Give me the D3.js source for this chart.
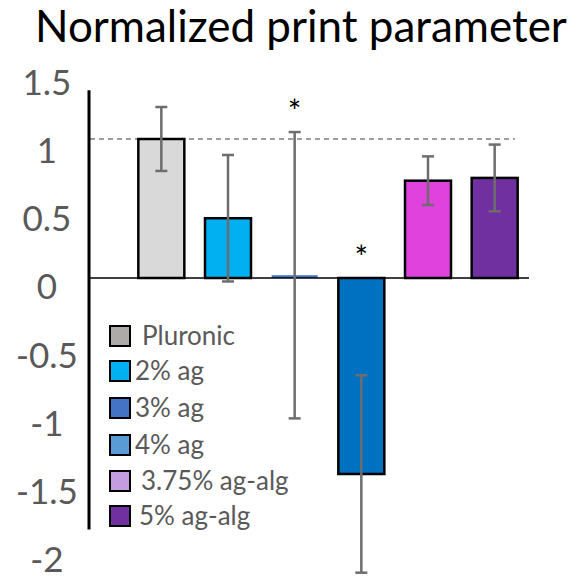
<!DOCTYPE html>
<html><head><meta charset="utf-8">
<script src="https://cdn.jsdelivr.net/npm/d3@7"></script>
<style>body{margin:0;background:#fff}svg{display:block}</style>
</head><body>
<script>
const categories = ["Pluronic","2% ag","3% ag","4% ag","3.75% ag-alg","5% ag-alg"];
const values = [1.0, 0.43, 0.02, -1.41, 0.70, 0.72];
const errors = [0.23, 0.455, 1.03, 0.71, 0.175, 0.24];
const barColors = ["#d9d9d9","#00b0f0","#4472c4","#0070c0","#e042de","#7030a0"];
const legendColors = ["#aeaaaa","#00b0f0","#4472c4","#5b9bd5","#c39ddf","#7030a0"];
const significant = [false,false,true,true,false,false];
const yTicks = [1.5,1,0.5,0,-0.5,-1,-1.5,-2];
const yTickLabels = ["1.5","1","0.5","0","-0.5","-1","-1.5","-2"];
const refLine = 1;
const axisExtent = [1.35,-1.81];

const W=576,H=580;
const svg=d3.select("body").append("svg").attr("width",W).attr("height",H);
const font="Lato, 'Open Sans', sans-serif";
const y=d3.scaleLinear().domain([0,1]).range([278,139]);
const yLab=d3.scaleLinear().domain([1.5,-2]).range([95,572]);
const x=d3.scaleBand().domain(categories).range([128,528]).paddingInner(0.31).paddingOuter(0.155);

// title
const t=svg.append("text").attr("x",35).attr("y",42).attr("font-family",font).attr("font-size",40).attr("fill","#000").text("Normalized print parameter");
const tl=t.node().getComputedTextLength();
t.attr("font-size",40*532/tl);

// y tick labels (centered)
svg.selectAll("text.tick").data(yTicks).join("text").attr("class","tick")
 .attr("x",47).attr("y",d=>yLab(d)).attr("text-anchor","middle")
 .attr("font-family",font).attr("font-size",35).attr("fill","#595959")
 .text((d,i)=>yTickLabels[i]);

// reference dashed line
svg.append("line").attr("x1",90).attr("x2",515).attr("y1",y(refLine)).attr("y2",y(refLine))
 .attr("stroke","#7f7f7f").attr("stroke-width",1.5).attr("stroke-dasharray","5,4");

// bars
svg.selectAll("rect.bar").data(values).join("rect").attr("class","bar")
 .attr("x",(d,i)=>x(categories[i])).attr("width",x.bandwidth())
 .attr("y",d=>y(Math.max(0,d))).attr("height",d=>Math.abs(y(d)-y(0)))
 .attr("fill",(d,i)=>barColors[i])
 .attr("stroke",(d,i)=>Math.abs(d)<0.05?"none":"#000").attr("stroke-width",2.5);

// zero line
svg.append("line").attr("x1",89).attr("x2",529).attr("y1",y(0)).attr("y2",y(0)).attr("stroke","#000").attr("stroke-width",1.5);

// error bars
const eb=svg.append("g").attr("stroke","#6d6d6d").attr("stroke-width",2.5);
values.forEach((v,i)=>{
  const cx=x(categories[i])+x.bandwidth()/2;
  const hi=y(v+errors[i]), lo=y(v-errors[i]);
  eb.append("line").attr("x1",cx).attr("x2",cx).attr("y1",hi).attr("y2",lo);
  eb.append("line").attr("x1",cx-6).attr("x2",cx+6).attr("y1",hi).attr("y2",hi);
  eb.append("line").attr("x1",cx-6).attr("x2",cx+6).attr("y1",lo).attr("y2",lo);
});

// asterisks
values.forEach((v,i)=>{
  if(!significant[i])return;
  const cx=x(categories[i])+x.bandwidth()/2;
  const top = v>0 ? y(v+errors[i]) : y(0);
  svg.append("text").attr("x",cx).attr("y",top-9).attr("text-anchor","middle")
   .attr("font-family",font).attr("font-size",32).attr("fill","#000").text("*");
});

// y axis line
svg.append("line").attr("x1",89).attr("x2",89).attr("y1",y(axisExtent[0])).attr("y2",y(axisExtent[1]))
 .attr("stroke","#000").attr("stroke-width",3);

// legend
const legY=[336,371,408,445,481,516];
const legTx=[142,135,135,135,141,139];
const lg=svg.append("g");
categories.forEach((c,i)=>{
  lg.append("rect").attr("x",110).attr("y",legY[i]-10).attr("width",20).attr("height",20)
   .attr("fill",legendColors[i]).attr("stroke","#000").attr("stroke-width",2);
  lg.append("text").attr("x",legTx[i]).attr("y",legY[i]+9).attr("font-family",font)
   .attr("font-size",26).attr("fill","#595959").text(c);
});
</script>
</body></html>
